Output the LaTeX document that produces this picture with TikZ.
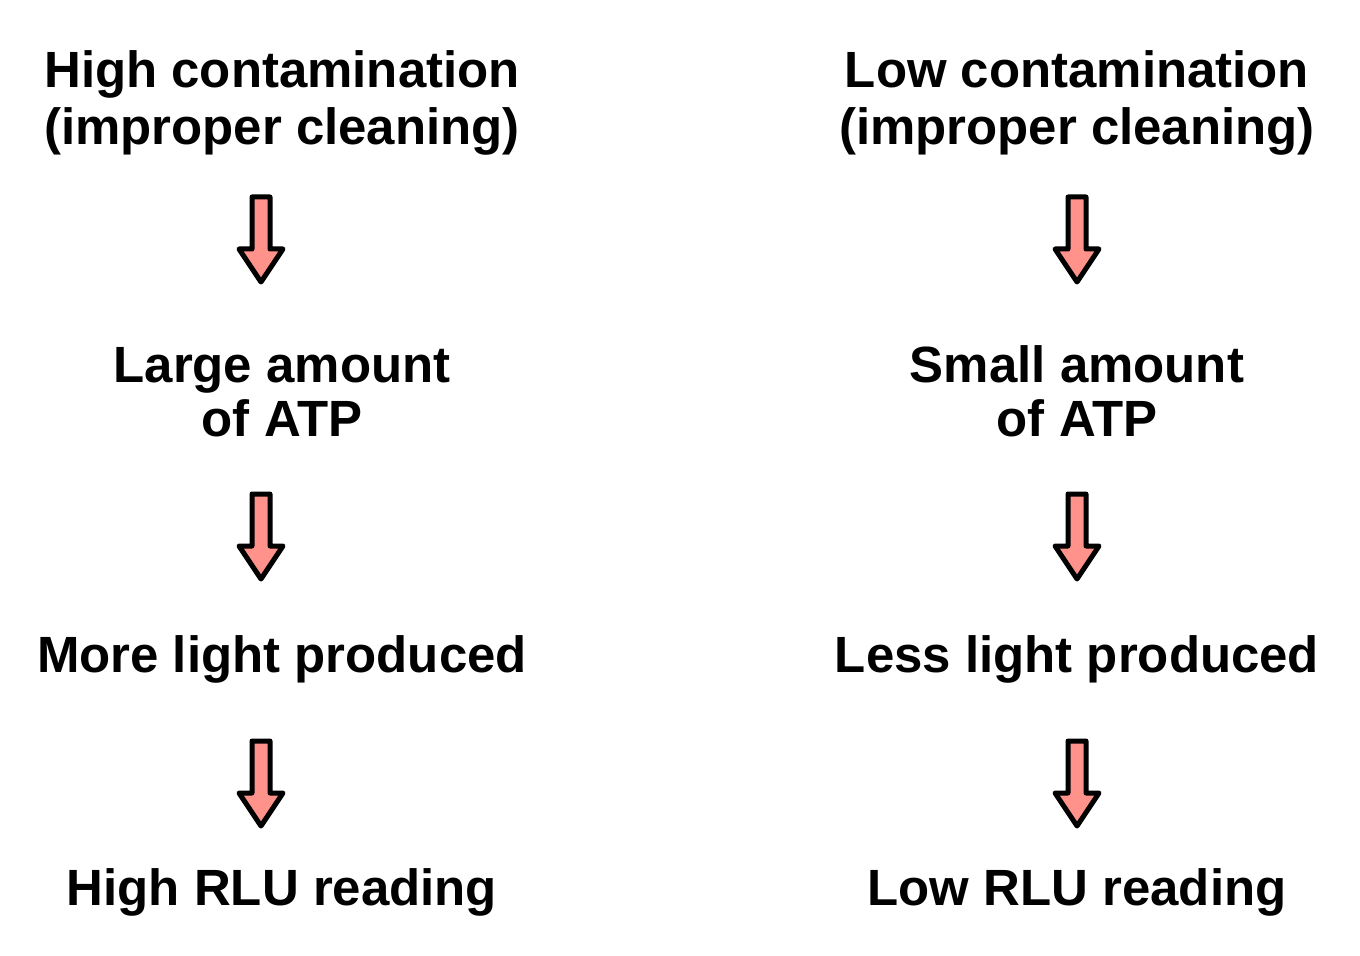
\documentclass[tikz,border=0pt]{standalone}
\usepackage{fontspec}
\setmainfont{Liberation Sans}
\definecolor{salmon}{RGB}{255,146,138}

\begin{document}
\begin{tikzpicture}[x = .02cm, y = -.02cm,
    txt/.style = {anchor = base, align = center, inner sep = 0pt,
                  font = \fontsize{29}{31.2}\selectfont\bfseries},
    downarrow/.pic = {
      \draw [fill = salmon, line width = 5*.02cm, line join = round]
        (-9, 0) -- (9, 0) -- (9, 52) -- (22, 52) -- (0, 85)
        -- (-22, 52) -- (-9, 52) -- cycle;
    }]
    \useasboundingbox (0, 0) rectangle (1360, 956);
    % left column
    \node (hc) at ( 282, 145) [txt] {High contamination\\[1.7pt](improper cleaning)};
    \node (la) at ( 282, 437) [txt] {Large amount\\of ATP};
    \node (ml) at ( 282, 672) [txt] {More light produced};
    \node (hr) at ( 282, 905) [txt] {High RLU reading};
    \pic at ( 261, 197) {downarrow};
    \pic at ( 261, 494) {downarrow};
    \pic at ( 261, 741) {downarrow};
    % right column
    \node (lc) at (1077, 145) [txt] {Low contamination\\[1.7pt](improper cleaning)};
    \node (sa) at (1077, 437) [txt] {Small amount\\of ATP};
    \node (ll) at (1077, 672) [txt] {Less light produced};
    \node (lr) at (1077, 905) [txt] {Low RLU reading};
    \pic at (1077, 197) {downarrow};
    \pic at (1077, 494) {downarrow};
    \pic at (1077, 741) {downarrow};
  \end{tikzpicture}
\end{document}
